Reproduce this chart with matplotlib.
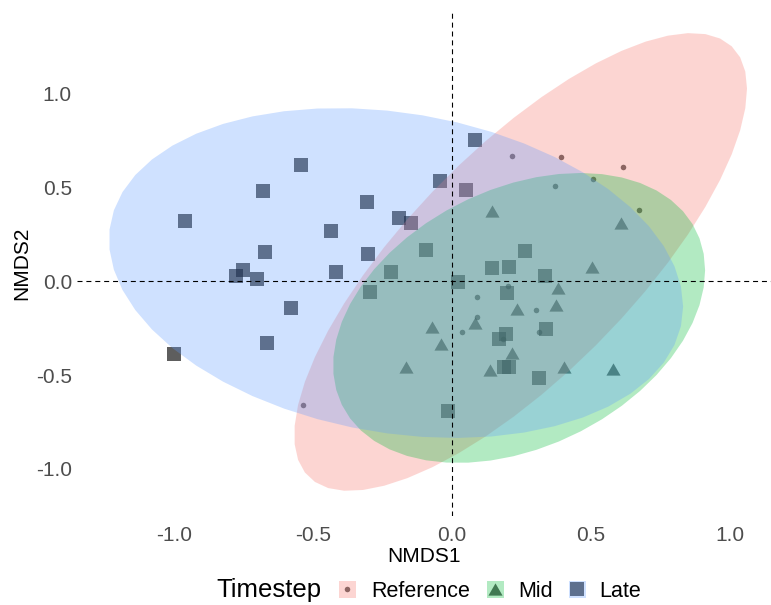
import numpy as np
import matplotlib
matplotlib.use("Agg")
import matplotlib.pyplot as plt
from matplotlib.patches import Rectangle
from matplotlib.lines import Line2D

plt.rcParams["font.family"] = ["Liberation Sans", "DejaVu Sans"]
plt.rcParams["axes.unicode_minus"] = False

# ---- NMDS site scores per timestep ----
ref_x = [0.217, 0.393, 0.613, 0.507, 0.369, 0.674, 0.200, 0.091, 0.091, 0.036, 0.182, 0.302, 0.314, -0.537]
ref_y = [0.668, 0.663, 0.611, 0.546, 0.510, 0.380, -0.025, -0.085, -0.190, -0.269, -0.309, -0.151, -0.269, -0.658]

mid_x = [0.145, 0.234, -0.073, 0.083, -0.041, 0.216, 0.135, -0.167, 0.607, 0.505, 0.381, 0.373, 0.402, 0.578]
mid_y = [0.375, -0.149, -0.245, -0.224, -0.336, -0.381, -0.475, -0.459, 0.313, 0.078, -0.037, -0.126, -0.455, -0.466]

late_x = [-0.543, -0.681, -0.959, -0.435, -0.673, -0.417, -0.752, -0.776, -0.700, -0.579, -0.664, -0.999,
          0.081, -0.043, 0.051, -0.307, -0.190, -0.147, -0.094, -0.303, -0.218, 0.021, -0.295, 0.145,
          0.206, 0.263, 0.198, 0.194, 0.169, 0.188, 0.206, -0.013, 0.333, 0.339, 0.313]
late_y = [0.622, 0.483, 0.322, 0.270, 0.156, 0.048, 0.059, 0.030, 0.012, -0.141, -0.327, -0.389,
          0.752, 0.537, 0.487, 0.421, 0.336, 0.309, 0.165, 0.144, 0.051, -0.002, -0.059, 0.069,
          0.078, 0.162, -0.064, -0.283, -0.308, -0.459, -0.459, -0.692, 0.030, -0.254, -0.516]

# 95% ellipse centres and shape matrices per timestep
ref_center = [0.2465, 0.103]
ref_shape = [[0.663, 0.753], [0.753, 1.491]]
mid_center = [0.241, -0.1955]
mid_shape = [[0.4476, 0.170], [0.170, 0.598]]
late_center = [-0.2015, 0.044]
late_shape = [[1.066, -0.185], [-0.185, 0.774]]

groups = ["Reference", "Mid", "Late"]
hues = ["#F8766D", "#00BA38", "#619CFF"]
ticks = [-1.0, -0.5, 0.0, 0.5, 1.0]

tri = [(-1, -0.866), (1, -0.866), (0, 0.866)]
markers = ["o", tri, "s"]
msizes = [4.0, 10.2, 10.4]


def ellipse_xy(center, shape, segments=51):
    t = np.linspace(0, 2 * np.pi, segments + 1)
    chol = np.linalg.cholesky(np.array(shape))
    pts = np.column_stack([np.cos(t), np.sin(t)]) @ chol.T + np.array(center)
    return pts[:, 0], pts[:, 1]


W, H = 771, 605
fig = plt.figure(figsize=(W / 100, H / 100), dpi=100)
ax = fig.add_axes([77 / W, (H - 516) / H, (W - 77) / W, (516 - 10) / H])
ax.set_xlim(-1.349, 1.147)
ax.set_ylim(-1.252, 1.447)

xs = [ref_x, mid_x, late_x]
ys = [ref_y, mid_y, late_y]
centers = [ref_center, mid_center, late_center]
shapes = [ref_shape, mid_shape, late_shape]

for x, y, m, ms in zip(xs, ys, markers, msizes):
    ax.plot(x, y, ls="none", marker=m, markersize=ms, color="black",
            alpha=0.63, markeredgewidth=0, zorder=1)

for c, s, hue in zip(centers, shapes, hues):
    ex, ey = ellipse_xy(c, s)
    ax.fill(ex, ey, color=hue, alpha=0.3, lw=0, zorder=2)

ax.axvline(0, color="black", lw=0.8, ls=(0, (4.5, 3.5)), zorder=3)
ax.axhline(0, color="black", lw=0.8, ls=(0, (4.5, 3.5)), zorder=3)

for sp in ax.spines.values():
    sp.set_visible(False)
ax.set_xticks(ticks)
ax.set_yticks(ticks)
ax.set_xticklabels([f"{v:.1f}" for v in ticks])
ax.set_yticklabels([f"{v:.1f}" for v in ticks])
ax.tick_params(axis="both", length=0, labelsize=15, labelcolor="#4D4D4D")
ax.tick_params(axis="x", pad=7)
ax.tick_params(axis="y", pad=3.6)

fig.text(424 / W, 1 - 556 / H, "NMDS1", ha="center", va="center", fontsize=15, color="black")
fig.text(22 / W, 1 - 263 / H, "NMDS2", ha="center", va="center", rotation=90,
         fontsize=15, color="black")

# legend at the bottom
base = 1 - 597 / H
fig.text(216 / W, base, "Timestep", ha="left", va="baseline", fontsize=18.5)
key_cx = [347, 495, 577]
text_x = [371, 518, 599]
key = 17
for g, hue, m, ms, cx, tx in zip(groups, hues, markers, msizes, key_cx, text_x):
    fig.add_artist(Line2D([cx / W], [1 - 589 / H], transform=fig.transFigure, ls="none",
                          marker=m, markersize=ms, color="black", alpha=0.63,
                          markeredgewidth=0, zorder=5))
    fig.add_artist(Rectangle(((cx - key / 2) / W, 1 - (589 + key / 2) / H), key / W, key / H,
                             transform=fig.transFigure, facecolor=hue, alpha=0.3, lw=0, zorder=6))
    fig.text(tx / W, base, g, ha="left", va="baseline", fontsize=15.5)

fig.savefig("out.png", dpi=100)
